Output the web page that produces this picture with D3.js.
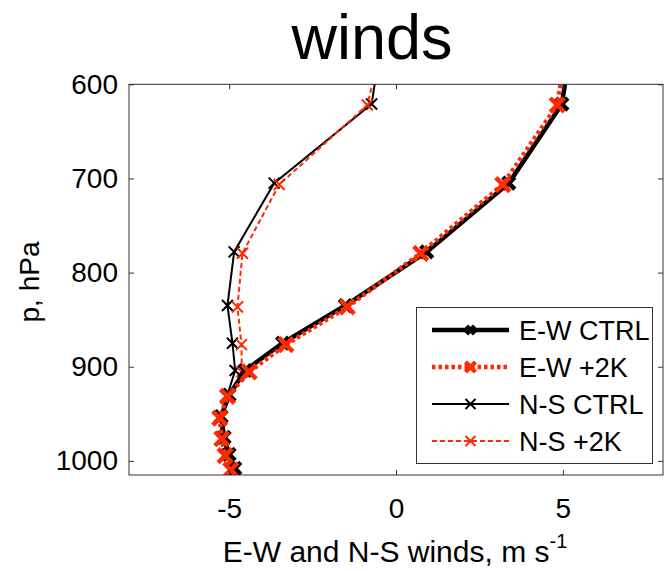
<!DOCTYPE html>
<html>
<head>
<meta charset="utf-8">
<script src="https://cdn.jsdelivr.net/npm/d3@7"></script>
<style>
  html, body { margin: 0; padding: 0; background: #fff; }
  svg { display: block; font-family: "Liberation Sans", Arial, Helvetica, sans-serif; }
</style>
</head>
<body>
<svg id="chart" width="665" height="571"></svg>
<script>
// ---- data (pressure levels in hPa, winds in m/s) ----
const levelsCTRL = [545, 621, 705, 778, 835, 875, 904, 930, 953, 975, 993, 1008];
const levels2K   = [546, 622, 706.5, 779.5, 836.5, 876.5, 905.5, 931.5, 954.5, 976.5, 994.5, 1009.5];
const ewCTRL = [5.30, 4.97, 3.38, 0.92, -1.52, -3.40, -4.52, -5.00, -5.24, -5.15, -5.00, -4.83];
const ew2K   = [5.18, 4.83, 3.20, 0.74, -1.46, -3.30, -4.40, -5.05, -5.28, -5.22, -5.12, -4.95];
const nsCTRL = [-0.40, -0.73, -3.65, -4.85, -5.05, -4.90, -4.82, -5.05, -5.25, -5.18, -5.05, -4.88];
const ns2K   = [-0.34, -0.86, -3.50, -4.60, -4.75, -4.63, -4.62, -5.05, -5.28, -5.20, -5.10, -4.95];
const seriesNames = ["E-W CTRL", "E-W +2K", "N-S CTRL", "N-S +2K"];
const xTicks = [-5, 0, 5];
const yTicks = [600, 700, 800, 900, 1000];
const xDomain = [-8, 8];
const yDomain = [600, 1015];

const RED = "#ff2a00";
const styles = [
  { color: "#000", width: 4.5, dash: null,  msize: 6,   mwidth: 4.5 },
  { color: RED,    width: 4.5, dash: "3.5,3", msize: 7, mwidth: 4.5 },
  { color: "#000", width: 2,   dash: null,  msize: 5.5, mwidth: 2 },
  { color: RED,    width: 2,   dash: "5,3", msize: 5.5, mwidth: 2 }
];
const series = [
  { name: seriesNames[0], p: levelsCTRL, u: ewCTRL, st: styles[0] },
  { name: seriesNames[1], p: levels2K,   u: ew2K,   st: styles[1] },
  { name: seriesNames[2], p: levelsCTRL, u: nsCTRL, st: styles[2] },
  { name: seriesNames[3], p: levels2K,   u: ns2K,   st: styles[3] }
];

const L = 129, R = 663, T = 84.3, B = 475;
const svg = d3.select("#chart");
const x = d3.scaleLinear().domain(xDomain).range([L, R]);
const y = d3.scaleLinear().domain(yDomain).range([T, B]);

svg.append("defs").append("clipPath").attr("id", "clip")
  .append("rect").attr("x", L).attr("y", T).attr("width", R - L).attr("height", B - T);

// title
svg.append("text").attr("x", 372).attr("y", 59).attr("text-anchor", "middle")
  .attr("font-size", 63).attr("fill", "#000").text("winds");

// data lines
const plot = svg.append("g").attr("clip-path", "url(#clip)");
function drawX(g, cx, cy, s, w, color) {
  g.append("path")
    .attr("d", `M${cx - s},${cy - s}L${cx + s},${cy + s}M${cx - s},${cy + s}L${cx + s},${cy - s}`)
    .attr("stroke", color).attr("stroke-width", w).attr("fill", "none");
}
series.slice().reverse().forEach(() => {});
// draw in order so later series sit on top
[2, 3, 0, 1].forEach(i => {
  const s = series[i];
  const pts = s.p.map((p, k) => [s.u[k], p]);
  const line = d3.line().x(d => x(d[0])).y(d => y(d[1]));
  const g = plot.append("g");
  g.append("path").attr("d", line(pts)).attr("fill", "none")
    .attr("stroke", s.st.color).attr("stroke-width", s.st.width)
    .attr("stroke-dasharray", s.st.dash);
  pts.forEach(d => drawX(g, x(d[0]), y(d[1]), s.st.msize, s.st.mwidth, s.st.color));
});

// axes frame
const axisColor = "#333";
svg.append("rect").attr("x", L).attr("y", T).attr("width", R - L).attr("height", B - T)
  .attr("fill", "none").attr("stroke", axisColor).attr("stroke-width", 1);

const tickLen = 5;
const xAxisB = d3.axisBottom(x).tickValues(xTicks).tickSize(-tickLen).tickPadding(22).tickFormat(d3.format("d"));
const gxb = svg.append("g").attr("transform", `translate(0,${B})`).call(xAxisB);
const xAxisT = d3.axisTop(x).tickValues(xTicks).tickSize(-tickLen).tickFormat("");
const gxt = svg.append("g").attr("transform", `translate(0,${T})`).call(xAxisT);
const yAxisL = d3.axisLeft(y).tickValues(yTicks).tickSize(-tickLen).tickPadding(11).tickFormat(d3.format("d"));
const gyl = svg.append("g").attr("transform", `translate(${L},0)`).call(yAxisL);
const yAxisR = d3.axisRight(y).tickValues(yTicks).tickSize(-tickLen).tickFormat("");
const gyr = svg.append("g").attr("transform", `translate(${R},0)`).call(yAxisR);
[gxb, gxt, gyl, gyr].forEach(g => {
  g.select(".domain").remove();
  g.selectAll(".tick line").attr("stroke", axisColor);
  g.selectAll("text").attr("font-family", "Liberation Sans, Arial, sans-serif")
    .attr("font-size", 28).attr("fill", "#000");
});
gxb.selectAll("text").attr("dy", null).attr("y", null).attr("transform", null);
gxb.selectAll(".tick text").attr("y", 43).attr("dy", 0);
gxb.selectAll(".tick text").text(d => d < 0 ? "-" + Math.abs(d) : d);

// axis labels
const xl = svg.append("text").attr("x", 395).attr("y", 562).attr("text-anchor", "middle")
  .attr("font-size", 30).attr("fill", "#000");
xl.append("tspan").text("E-W and N-S winds, m s");
xl.append("tspan").attr("font-size", 20).attr("dy", -14).text("-1");

svg.append("text").attr("transform", "translate(39,282) rotate(-90)")
  .attr("text-anchor", "middle").attr("font-size", 28).attr("fill", "#000").text("p, hPa");

// legend
const lg = svg.append("g");
lg.append("rect").attr("x", 416.5).attr("y", 307.5).attr("width", 236).attr("height", 156)
  .attr("fill", "#fff").attr("stroke", axisColor).attr("stroke-width", 1);
const rowY = [330, 367, 404, 441];
series.forEach((s, i) => {
  const yy = rowY[i];
  lg.append("line").attr("x1", 432).attr("x2", 509).attr("y1", yy).attr("y2", yy)
    .attr("stroke", s.st.color).attr("stroke-width", s.st.width)
    .attr("stroke-dasharray", s.st.dash);
  drawX(lg, 470.5, yy, i < 2 ? (i === 0 ? 4 : 5) : 5, s.st.mwidth, s.st.color);
  lg.append("text").attr("x", 519).attr("y", yy).attr("dy", "0.36em")
    .attr("font-size", 27).attr("fill", "#000").text(s.name);
});
</script>
</body>
</html>
